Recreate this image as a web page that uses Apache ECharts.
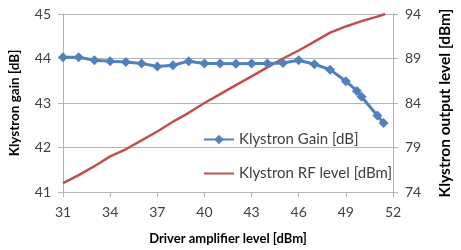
<!DOCTYPE html>
<html>
<head>
<meta charset="utf-8">
<script src="https://cdn.jsdelivr.net/npm/echarts@6/dist/echarts.min.js"></script>
<style>
  html, body { margin: 0; padding: 0; background: #fff; }
  #chart { width: 461px; height: 250px; }
</style>
</head>
<body>
<div id="chart"></div>
<script>
// 数据
const gainX = [31, 32, 33, 34, 35, 36, 37, 38, 39, 40, 41, 42, 43, 44, 45, 46, 47, 48, 49, 49.7, 50, 51, 51.4]
const gainY = [44.03, 44.03, 43.96, 43.94, 43.92, 43.89, 43.82, 43.85, 43.94, 43.89, 43.89, 43.88, 43.89, 43.89, 43.9, 43.96, 43.87, 43.75, 43.49, 43.27, 43.14, 42.72, 42.55]
const rfX = [31, 32, 33, 34, 35, 36, 37, 38, 39, 40, 41, 42, 43, 44, 45, 46, 47, 48, 49, 50, 51, 51.5]
const rfY = [75.0, 75.9, 76.9, 78.0, 78.8, 79.8, 80.8, 81.9, 82.9, 84.0, 85.0, 86.0, 87.0, 88.0, 89.0, 89.9, 90.9, 91.9, 92.6, 93.2, 93.7, 94.0]
const xTicks = [31, 34, 37, 40, 43, 46, 49, 52]
const rightTicks = [74, 79, 84, 89, 94]

const pair = (xs, ys) => xs.map((x, i) => [x, ys[i]])

const font = 'Lato, "Open Sans", sans-serif'
const labelColor = '#404040'
const gridColor = '#b3b3b3'

const option = {
  animation: false,
  textStyle: { fontFamily: font },
  grid: { left: 62, right: 53, top: 14, bottom: 55 },
  legend: {
    orient: 'vertical',
    left: 198,
    top: 127,
    itemWidth: 30,
    itemHeight: 12,
    itemGap: 19,
    textStyle: { fontSize: 15, color: labelColor, fontFamily: font },
    data: [
      { name: 'Klystron Gain [dB]' },
      { name: 'Klystron RF level [dBm]', itemStyle: { opacity: 0 } }
    ]
  },
  xAxis: {
    type: 'value',
    min: 31,
    max: 52,
    name: 'Driver amplifier level [dBm]',
    nameLocation: 'middle',
    nameGap: 40,
    nameTextStyle: { fontSize: 13, fontWeight: 'bold', color: '#000' },
    axisLine: { lineStyle: { color: gridColor } },
    axisTick: { show: true, length: 5, lineStyle: { color: gridColor }, customValues: xTicks },
    axisLabel: { fontSize: 14, color: labelColor, margin: 13, customValues: xTicks },
    splitLine: { show: false }
  },
  yAxis: [
    {
      type: 'value',
      min: 41,
      max: 45,
      interval: 1,
      name: 'Klystron gain [dB]',
      nameLocation: 'middle',
      nameRotate: 90,
      nameGap: 41,
      nameTextStyle: { fontSize: 13.5, fontWeight: 'bold', color: '#000' },
      axisLine: { show: true, lineStyle: { color: gridColor } },
      axisTick: { show: true, length: 5, lineStyle: { color: gridColor } },
      axisLabel: { fontSize: 14, color: labelColor, margin: 12 },
      splitLine: { lineStyle: { color: gridColor } }
    },
    {
      type: 'value',
      min: 74,
      max: 94,
      position: 'right',
      name: 'Klystron output level [dBm]',
      nameLocation: 'middle',
      nameRotate: 90,
      nameGap: 44,
      nameTextStyle: { fontSize: 15.5, fontWeight: 'bold', color: '#000' },
      axisLine: { show: true, lineStyle: { color: gridColor } },
      axisTick: { show: true, length: 5, lineStyle: { color: gridColor }, customValues: rightTicks },
      axisLabel: { fontSize: 14, color: labelColor, margin: 12, customValues: rightTicks },
      splitLine: { show: false }
    }
  ],
  series: [
    {
      name: 'Klystron RF level [dBm]',
      type: 'line',
      yAxisIndex: 1,
      data: pair(rfX, rfY),
      showSymbol: false,
      symbol: 'none',
      lineStyle: { color: '#c0504d', width: 2.5 },
      itemStyle: { color: '#c0504d' }
    },
    {
      name: 'Klystron Gain [dB]',
      type: 'line',
      yAxisIndex: 0,
      data: pair(gainX, gainY),
      symbol: 'diamond',
      symbolSize: 10,
      lineStyle: { color: '#4f81bd', width: 3 },
      itemStyle: { color: '#4f81bd' }
    }
  ]
}

const myChart = echarts.init(document.getElementById('chart'))
myChart.setOption(option)
</script>
</body>
</html>
